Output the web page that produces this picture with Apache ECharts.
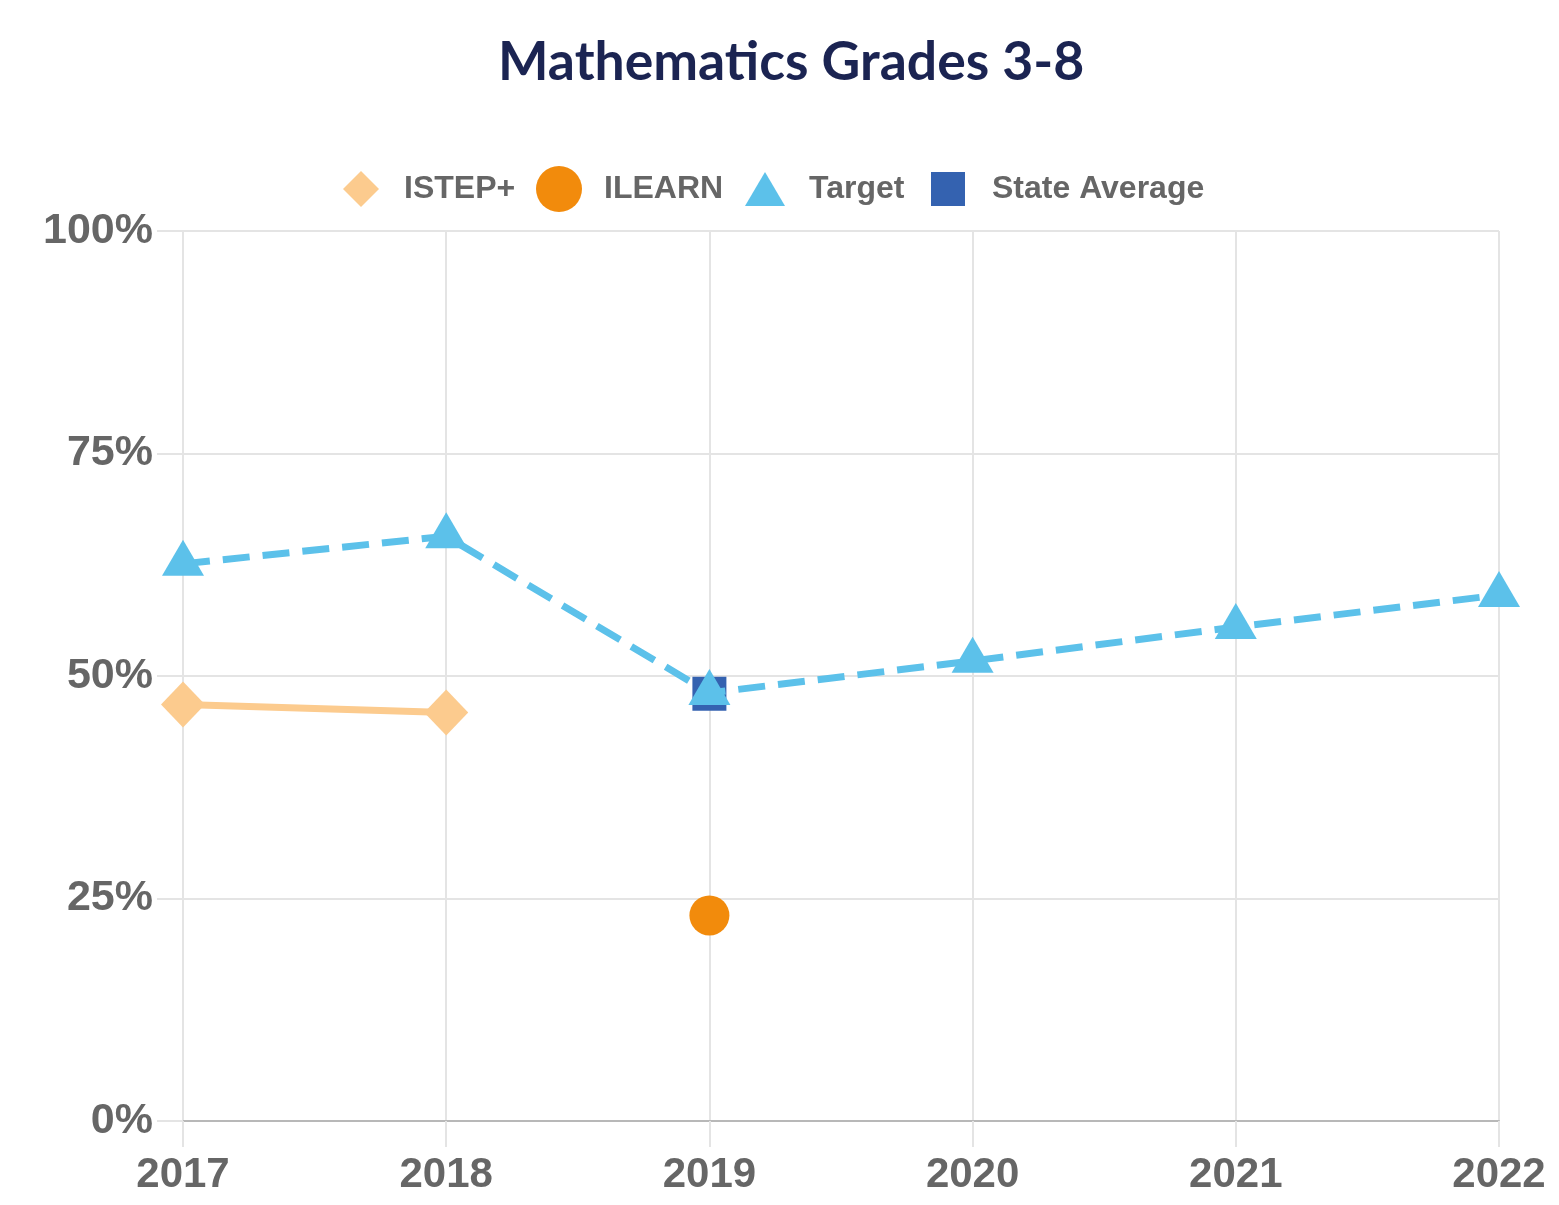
<!DOCTYPE html>
<html>
<head>
<meta charset="utf-8">
<script src="https://cdn.jsdelivr.net/npm/echarts@6/dist/echarts.min.js"></script>
<style>
html,body{margin:0;padding:0;background:#fff;}
#chart{width:1559px;height:1205px;}
</style>
</head>
<body>
<div id="chart"></div>
<script>
const years = ['2017', '2018', '2019', '2020', '2021', '2022'];
const istep = [46.8, 45.9, null, null, null, null];
const ilearn = [null, null, 23.1, null, null, null];
const target = [62.6, 65.7, 48.1, 51.7, 55.5, 59.1];
const stateAvg = [null, null, 48.0, null, null, null];
const yTicks = [0, 25, 50, 75, 100];

const C_ISTEP = '#fccb8e', C_ILEARN = '#f28b0c', C_TARGET = '#5cc1ea', C_STATE = '#3462b0';
const labelFont = { color: '#666666', fontFamily: 'Liberation Sans, Arial, sans-serif', fontWeight: 'bold' };

function legendItem(name, icon, color, left, w, h, padLeft) {
  return {
    data: [{ name: name, icon: icon, itemStyle: { color: color } }],
    left: left, top: 186 - h / 2 - 2, itemWidth: w, itemHeight: h,
    textStyle: Object.assign({ fontSize: 32, padding: [0, 0, 0, padLeft] }, labelFont),
    selectedMode: false
  };
}

const chart = echarts.init(document.getElementById('chart'));
chart.setOption({
  animation: false,
  backgroundColor: '#ffffff',
  title: {
    text: 'Mathematics Grades 3-8', left: 493, top: 31,
    textStyle: { fontFamily: 'Lato, sans-serif', fontWeight: 'bold', fontSize: 53.5, color: '#1b2452' }
  },
  legend: [
    legendItem('ISTEP+', 'diamond', C_ISTEP, 338, 36, 36, 20),
    legendItem('ILEARN', 'circle', C_ILEARN, 531, 46, 46, 17),
    legendItem('Target', 'triangle', C_TARGET, 740, 40, 34, 19),
    legendItem('State Average', 'rect', C_STATE, 926, 34, 34, 22)
  ],
  grid: { left: 183, right: 60, top: 231, bottom: 84 },
  xAxis: {
    type: 'category', data: years, boundaryGap: false,
    axisLine: { lineStyle: { color: '#b8b8b8', width: 2 } },
    axisTick: { show: true, length: 26, interval: 0, lineStyle: { color: '#e4e4e4', width: 2 } },
    axisLabel: Object.assign({ fontSize: 42, margin: 33, interval: 0 }, labelFont),
    splitLine: { show: true, interval: 0, lineStyle: { color: '#e4e4e4', width: 2 } }
  },
  yAxis: {
    type: 'value', min: 0, max: 100, interval: 25,
    axisLine: { show: false },
    axisTick: { show: true, length: 26, lineStyle: { color: '#e4e4e4', width: 2 } },
    axisLabel: Object.assign({ fontSize: 43, margin: 30, formatter: v => yTicks.includes(v) ? v + '%' : '' }, labelFont),
    splitLine: { show: true, lineStyle: { color: '#e4e4e4', width: 2 } }
  },
  series: [
    {
      name: 'ISTEP+', type: 'line', data: istep, connectNulls: false,
      symbol: 'diamond', symbolSize: [44, 46], z: 3,
      itemStyle: { color: C_ISTEP }, lineStyle: { color: C_ISTEP, width: 7 }
    },
    {
      name: 'ILEARN', type: 'line', data: ilearn,
      symbol: 'circle', symbolSize: 40, z: 3,
      itemStyle: { color: C_ILEARN }, lineStyle: { color: C_ILEARN, width: 7 }
    },
    {
      name: 'State Average', type: 'line', data: stateAvg,
      symbol: 'rect', symbolSize: 34, z: 3,
      itemStyle: { color: C_STATE }, lineStyle: { color: C_STATE, width: 7 }
    },
    {
      name: 'Target', type: 'line', data: target,
      symbol: 'triangle', symbolSize: [42, 36], symbolOffset: [0, -6], z: 4,
      itemStyle: { color: C_TARGET },
      lineStyle: { color: C_TARGET, width: 7, type: [27, 13] }
    }
  ]
});
</script>
</body>
</html>
